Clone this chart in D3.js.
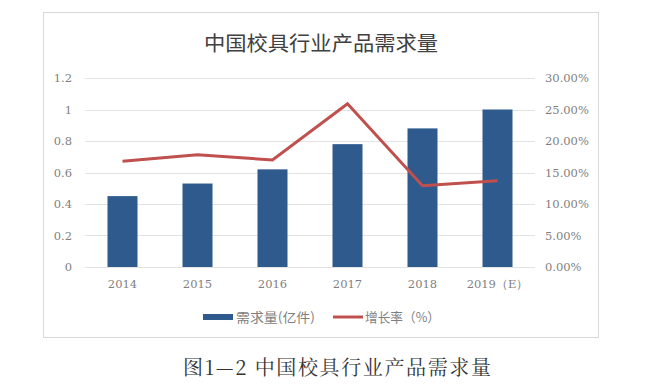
<html>
<head>
  <script src="https://d3js.org/d3.v7.min.js"></script>
  <style>
    body { margin: 0; background: #fff; }
    svg text { fill: #7f7f7f; }
  </style>
</head>
<body>
  <svg id="chart"></svg>

  <script>
    const years = ['2014', '2015', '2016', '2017', '2018', '2019（E）'];
    const demand = [0.45, 0.53, 0.62, 0.78, 0.88, 1.0];
    const growth = [16.8, 17.8, 17.0, 25.9, 12.9, 13.7];
    const leftTicks = [0, 0.2, 0.4, 0.6, 0.8, 1, 1.2];
    const rightTicks = [0, 5, 10, 15, 20, 25, 30];

    const width = 664, height = 389;
    const svg = d3.select('#chart').attr('width', width).attr('height', height);

    // frame
    svg.append('rect')
      .attr('x', 43.5).attr('y', 12.5).attr('width', 555).attr('height', 325)
      .attr('fill', '#fff').attr('stroke', '#d9d9d9');

    svg.append('text')
      .attr('x', 321).attr('y', 51).attr('text-anchor', 'middle')
      .attr('textLength', 234).attr('lengthAdjust', 'spacingAndGlyphs')
      .style('font-family', 'Noto Sans CJK SC').style('font-size', '20px')
      .style('fill', '#404040')
      .text('中国校具行业产品需求量');

    const x = d3.scaleBand().domain(years).range([85, 535]).paddingInner(0.6).paddingOuter(0.3);
    const yL = d3.scaleLinear().domain([0, 1.2]).range([267, 78]);
    const yR = d3.scaleLinear().domain([0, 30]).range([267, 78]);

    // gridlines
    svg.append('g').selectAll('line').data(leftTicks).enter().append('line')
      .attr('x1', 85).attr('x2', 535)
      .attr('y1', d => Math.round(yL(d)) + 0.5).attr('y2', d => Math.round(yL(d)) + 0.5)
      .attr('stroke', '#e3e3e3');

    const numFont = g => g.selectAll('text')
      .style('font-family', 'DejaVu Serif').style('font-size', '11.5px').style('fill', '#7f7f7f');

    svg.append('g').attr('transform', 'translate(85,0)')
      .call(d3.axisLeft(yL).tickValues(leftTicks).tickSize(0).tickPadding(13).tickFormat(d => String(d)))
      .call(g => g.select('.domain').remove())
      .call(numFont);

    svg.append('g').attr('transform', 'translate(535,0)')
      .call(d3.axisRight(yR).tickValues(rightTicks).tickSize(0).tickPadding(10).tickFormat(d => d.toFixed(2) + '%'))
      .call(g => g.select('.domain').remove())
      .call(numFont);

    svg.append('g').attr('transform', 'translate(0,267)')
      .call(d3.axisBottom(x).tickSize(0).tickPadding(13))
      .call(g => g.select('.domain').remove())
      .call(numFont);

    // bars
    svg.append('g').selectAll('rect').data(demand).enter().append('rect')
      .attr('x', (d, i) => x(years[i]))
      .attr('y', d => yL(d))
      .attr('width', x.bandwidth())
      .attr('height', d => yL(0) - yL(d))
      .attr('fill', '#2e5a8e');

    // growth line
    const line = d3.line()
      .x((d, i) => x(years[i]) + x.bandwidth() / 2)
      .y(d => yR(d));
    svg.append('path').datum(growth)
      .attr('d', line)
      .attr('fill', 'none')
      .attr('stroke', '#c0504d')
      .attr('stroke-width', 3);

    // legend
    const lg = svg.append('g');
    lg.append('rect').attr('x', 203).attr('y', 314).attr('width', 30).attr('height', 6).attr('fill', '#2e5a8e');
    lg.append('text').attr('x', 236).attr('y', 322)
      .attr('textLength', 79).attr('lengthAdjust', 'spacingAndGlyphs')
      .style('font-family', 'Noto Sans CJK SC').style('font-size', '13px')
      .text('需求量(亿件)');
    lg.append('line').attr('x1', 333).attr('x2', 363).attr('y1', 317).attr('y2', 317)
      .attr('stroke', '#c0504d').attr('stroke-width', 3);
    lg.append('text').attr('x', 365).attr('y', 322)
      .attr('textLength', 75).attr('lengthAdjust', 'spacingAndGlyphs')
      .style('font-family', 'Noto Sans CJK SC').style('font-size', '13px')
      .text('增长率（%）');

    // caption
    svg.append('text')
      .attr('x', 183).attr('y', 375)
      .attr('textLength', 308).attr('lengthAdjust', 'spacing')
      .style('font-family', 'Noto Serif CJK SC, Noto Sans CJK SC, serif').style('font-size', '20px')
      .style('fill', '#333')
      .text('图1—2 中国校具行业产品需求量');
  </script>
</body>
</html>
